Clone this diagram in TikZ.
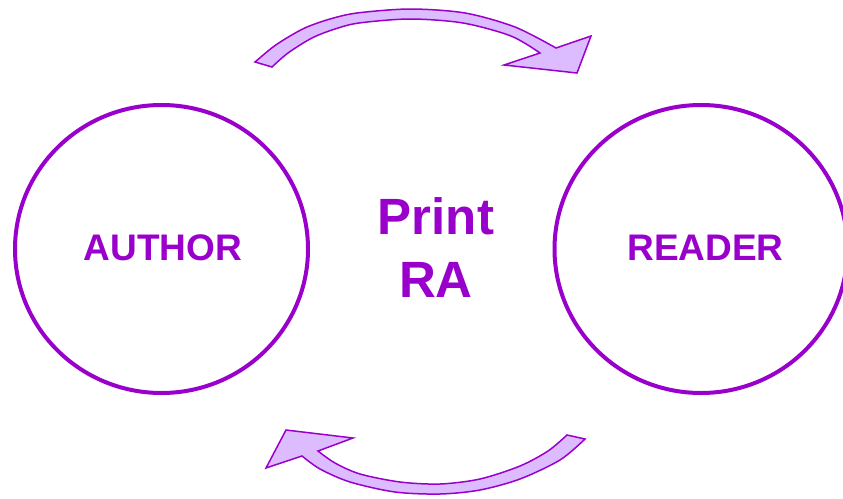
\documentclass[tikz,border=0pt]{standalone}
\usepackage{fontspec}
\usetikzlibrary{shapes.geometric}
\setmainfont{Liberation Sans}
\definecolor{vio}{HTML}{9900CC}
\definecolor{lav}{HTML}{DDBBFF}
\begin{document}
\begin{tikzpicture}[x=1pt,y=-1pt,
  ring/.style={ellipse,draw=vio,line width=4pt,inner sep=0pt,
    minimum width=293pt,minimum height=288pt},
  ringtext/.style={text=vio,font=\fontsize{37}{40}\selectfont\bfseries},
  bigtext/.style={text=vio,font=\fontsize{51}{60}\selectfont\bfseries,anchor=base},
  curvedarrow/.style={draw=vio,fill=lav,line width=1.5pt,line join=miter}]
\useasboundingbox (0,0) rectangle (843,498);
\node[ring] (author) at (161.5,249) {};
\node[ring] (reader) at (701,249) {};
\node[ringtext] (authortext) at (163,248) {AUTHOR};
\node[ringtext] (readertext) at (705.5,248) {READER};
\node[bigtext] (print) at (436,234) {Print};
\node[bigtext] (ra) at (436,297) {RA};
% top arrow
\draw[curvedarrow] (255,62) -- plot[smooth,tension=0.5] coordinates {(255,62) (273,47) (290,36) (307,27) (330,19) (357,13) (410,9) (465,13) (515,27) (556,48)}
  -- (591,36) -- (577,73) -- (504,65) -- (540,53)
  -- plot[smooth,tension=0.5] coordinates {(540,53) (511,36) (463,23) (410,19) (359,23) (335,29) (312,38) (288,53) (272,67)} -- cycle;
% bottom arrow
\draw[curvedarrow] (585,439) -- plot[smooth,tension=0.5] coordinates {(585,439) (560,460) (520,479) (480,490) (440,494) (395,492) (350,482) (320,469) (302,456)}
  -- (266,468) -- (286,430) -- (353,438) -- (318,451)
  -- plot[smooth,tension=0.5] coordinates {(318,451) (335,463) (360,474) (400,482) (440,484) (480,479) (520,466) (548,451) (567,435)} -- cycle;
\end{tikzpicture}
\end{document}
